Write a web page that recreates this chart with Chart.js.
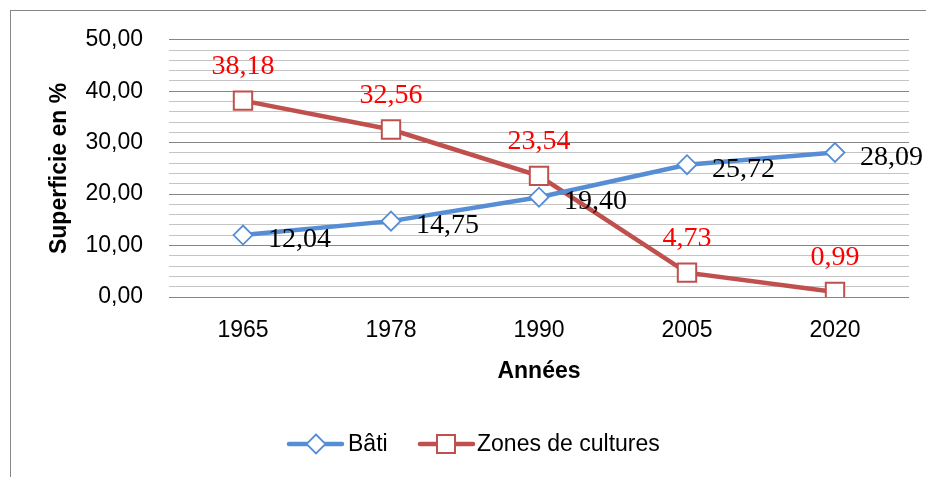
<!DOCTYPE html>
<html>
<head>
<meta charset="utf-8">
<script src="https://cdn.jsdelivr.net/npm/chart.js@4"></script>
<style>
    html, body { margin: 0; padding: 0; background: #fff; }
    #wrap { position: relative; width: 926px; height: 477px; }
</style>
</head>
<body>
<div id="wrap"><canvas id="surfaceChart"></canvas></div>
<script>
const years = ['1965', '1978', '1990', '2005', '2020'];
const batiValues = [12.04, 14.75, 19.40, 25.72, 28.09];
const culturesValues = [38.18, 32.56, 23.54, 4.73, 0.99];
const yTickLabels = ['0,00', '10,00', '20,00', '30,00', '40,00', '50,00'];

const BLUE = '#558ed5';
const RED = '#c0504d';

const fmt = v => v.toFixed(2).replace('.', ',');

// value labels, outer frame and the legend (line + marker style)
const decorPlugin = {
    id: 'decor',
    beforeDraw(chart) {
        const ctx = chart.ctx;
        ctx.save();
        ctx.strokeStyle = '#868686';
        ctx.lineWidth = 1;
        ctx.strokeRect(10.5, 10.5, 1000, 1000);
        ctx.restore();
    },
    afterDatasetsDraw(chart) {
        const ctx = chart.ctx;
        ctx.save();
        ctx.font = '28px "Liberation Serif"';
        ctx.textBaseline = 'alphabetic';

        chart.getDatasetMeta(0).data.forEach((pt, i) => {
            ctx.fillStyle = '#000';
            ctx.textAlign = 'left';
            ctx.fillText(fmt(batiValues[i]), pt.x + 25, pt.y + 12);
        });
        chart.getDatasetMeta(1).data.forEach((pt, i) => {
            ctx.fillStyle = '#ff0000';
            ctx.textAlign = 'center';
            ctx.fillText(fmt(culturesValues[i]), pt.x, pt.y - 27);
        });
        ctx.restore();
    },
    afterDraw(chart) {
        const ctx = chart.ctx;
        const y = 444;
        ctx.save();
        ctx.lineCap = 'round';
        ctx.font = '23px "Liberation Sans"';
        ctx.textBaseline = 'middle';
        ctx.textAlign = 'left';

        // Bâti
        ctx.strokeStyle = BLUE;
        ctx.lineWidth = 4.5;
        ctx.beginPath(); ctx.moveTo(289, y); ctx.lineTo(342, y); ctx.stroke();
        ctx.fillStyle = '#fff';
        ctx.lineWidth = 1.8;
        ctx.beginPath();
        ctx.moveTo(316, y - 9.5); ctx.lineTo(325.5, y); ctx.lineTo(316, y + 9.5); ctx.lineTo(306.5, y);
        ctx.closePath(); ctx.fill(); ctx.stroke();
        ctx.fillStyle = '#000';
        ctx.fillText('Bâti', 348, y + 1);

        // Zones de cultures
        ctx.strokeStyle = RED;
        ctx.lineWidth = 4.5;
        ctx.beginPath(); ctx.moveTo(420, y); ctx.lineTo(473, y); ctx.stroke();
        ctx.fillStyle = '#fff';
        ctx.lineWidth = 2;
        ctx.fillRect(437, y - 9, 18, 18);
        ctx.strokeRect(437, y - 9, 18, 18);
        ctx.fillStyle = '#000';
        ctx.fillText('Zones de cultures', 477, y + 1);
        ctx.restore();
    }
};

const ctx = document.getElementById('surfaceChart').getContext('2d');
const surfaceChart = new Chart(ctx, {
    type: 'line',
    data: {
        labels: years,
        datasets: [{
            label: 'Bâti',
            data: batiValues,
            borderColor: BLUE,
            borderWidth: 4.5,
            pointStyle: 'rectRot',
            pointRadius: 9.5,
            pointBorderWidth: 1.8,
            pointBackgroundColor: '#fff',
            pointBorderColor: BLUE,
            tension: 0
        }, {
            label: 'Zones de cultures',
            data: culturesValues,
            borderColor: RED,
            borderWidth: 4.5,
            pointStyle: 'rect',
            pointRadius: 13,
            pointBorderWidth: 2,
            pointBackgroundColor: '#fff',
            pointBorderColor: RED,
            tension: 0
        }]
    },
    options: {
        responsive: true,
        maintainAspectRatio: false,
        animation: false,
        layout: {
            padding: { left: 10, top: 39, right: 17, bottom: 80 }
        },
        plugins: {
            legend: { display: false },
            tooltip: { enabled: false }
        },
        scales: {
            x: {
                offset: true,
                grid: { display: false, drawTicks: false },
                border: { display: false },
                ticks: {
                    color: '#000',
                    padding: 20,
                    font: { family: 'Liberation Sans', size: 23 }
                },
                title: {
                    display: true,
                    text: 'Années',
                    color: '#000',
                    font: { family: 'Liberation Sans', size: 23, weight: 'bold' },
                    padding: { top: 0, bottom: 12 }
                },
                afterFit: scale => { scale.height = 100; }
            },
            y: {
                min: 0,
                max: 50,
                border: { display: false },
                grid: {
                    drawTicks: false,
                    lineWidth: 1,
                    color: c => (Math.round(c.tick.value) % 10 === 0 ? '#868686' : '#c4c4c4')
                },
                ticks: {
                    stepSize: 2,
                    autoSkip: false,
                    color: '#000',
                    padding: 26,
                    font: { family: 'Liberation Sans', size: 23 },
                    callback: v => {
                        const r = Math.round(v);
                        return r % 10 === 0 ? yTickLabels[r / 10] : '';
                    }
                },
                title: {
                    display: true,
                    text: 'Superficie en %',
                    color: '#000',
                    font: { family: 'Liberation Sans', size: 23, weight: 'bold' },
                    padding: { top: 36, bottom: 0 }
                },
                afterFit: scale => { scale.width = 159; }
            }
        }
    },
    plugins: [decorPlugin]
});
</script>
</body>
</html>
